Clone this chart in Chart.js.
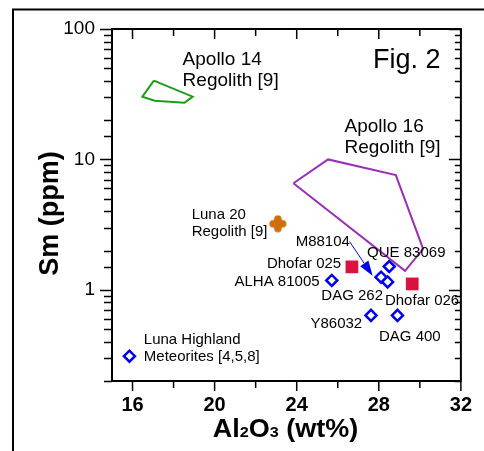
<!DOCTYPE html>
<html>
<head>
<meta charset="utf-8">
<script src="https://cdn.jsdelivr.net/npm/chart.js@4/dist/chart.umd.min.js"></script>
<style>
  html, body { margin: 0; padding: 0; background: #fff; }
  #wrap { width: 484px; height: 451px; }
</style>
</head>
<body>
<div id="wrap"><canvas id="smAluminaChart" width="484" height="451"></canvas></div>
<script>
// Apollo 14 regolith field (closed polygon)
let apollo14Al = [17.04, 18.93, 18.53, 17.08, 16.48, 17.04];
let apollo14Sm = [40.2, 30.3, 27.2, 28.2, 30.3, 40.2];

// Apollo 16 regolith field (closed polygon)
let apollo16Al = [23.84, 25.53, 28.83, 30.16, 29.28, 23.84];
let apollo16Sm = [6.56, 10.0, 7.59, 2.06, 1.40, 6.56];

// lunar highland meteorites (open diamonds)
let meteoriteNames = ['Luna Highland', 'ALHA 81005', 'Y86032', 'DAG 400', 'QUE 83069', 'M88104', 'DAG 262'];
let meteoriteAl = [15.85, 25.71, 27.62, 28.91, 28.51, 28.11, 28.43];
let meteoriteSm = [0.31, 1.18, 0.637, 0.637, 1.51, 1.25, 1.15];

// Dhofar 025 / 026 (red squares)
let dhofarAl = [26.69, 29.63];
let dhofarSm = [1.50, 1.11];

// Luna 20 regolith
let luna20Al = [23.08];
let luna20Sm = [3.21];

// M88104 arrow, start -> tip
let arrowAl = [26.58, 27.70];
let arrowSm = [2.34, 1.28];

// axis ticks
let xTickLabels = [16, 20, 24, 28, 32];
let yTickLabels = [1, 10, 100];

// text notes: lines, Al2O3 and Sm of the first baseline
let noteLines = [
    ['Apollo 14', 'Regolith [9]'],
    ['Apollo 16', 'Regolith [9]'],
    ['Luna 20', 'Regolith [9]'],
    ['M88104'],
    ['QUE 83069'],
    ['Dhofar 025'],
    ['ALHA 81005'],
    ['DAG 262'],
    ['Dhofar 026'],
    ['Y86032'],
    ['DAG 400'],
    ['Luna Highland', 'Meteorites [4,5,8]']
];
let noteAl = [18.44, 26.33, 18.88, 23.95, 27.43, 22.55, 20.97, 25.20, 28.30, 24.67, 28.01, 16.55];
let noteSm = [53.0, 16.1, 3.49, 2.17, 1.79, 1.48, 1.07, 0.835, 0.764, 0.507, 0.405, 0.382];

function toPoints(xs, ys) {
    return xs.map((x, i) => ({x: x, y: ys[i]}));
}

const FONT = '"Liberation Sans", Arial, sans-serif';

// rounded plus sign for Luna 20
let plusMark = document.createElement('canvas');
plusMark.width = 18;
plusMark.height = 18;
let pctx = plusMark.getContext('2d');
pctx.fillStyle = '#cf6d0f';
pctx.beginPath();
pctx.roundRect(0.5, 5.2, 17, 7.6, 3.8);
pctx.roundRect(5.2, 0.5, 7.6, 17, 3.8);
pctx.fill('nonzero');

let figurePlugin = {
    id: 'figure',
    afterDraw(chart) {
        let ctx = chart.ctx;
        let area = chart.chartArea;
        let xs = chart.scales.x;
        let ys = chart.scales.y;
        ctx.save();

        // outer figure frame (cropped)
        ctx.strokeStyle = '#000';
        ctx.lineWidth = 2;
        ctx.beginPath();
        ctx.moveTo(13, 451);
        ctx.lineTo(13, 9.5);
        ctx.lineTo(484, 9.5);
        ctx.stroke();

        // plot box
        ctx.strokeRect(area.left, area.top, area.right - area.left, area.bottom - area.top);

        // tick marks
        ctx.lineWidth = 1.5;
        ctx.beginPath();
        xs.ticks.forEach(t => {
            if (t.value % 2 !== 0) return;
            let px = xs.getPixelForValue(t.value);
            let len = (t.value % 4 === 0) ? 10 : 7;
            ctx.moveTo(px, area.bottom);
            ctx.lineTo(px, area.bottom + len);
            ctx.moveTo(px, area.top);
            ctx.lineTo(px, area.top + len);
        });
        ys.ticks.forEach(t => {
            let py = Math.round(ys.getPixelForValue(t.value)) + 0.5;
            let lg = Math.log10(t.value);
            let major = Math.abs(lg - Math.round(lg)) < 1e-6;
            ctx.moveTo(area.left, py);
            ctx.lineTo(area.left - (major ? 12 : 8), py);
            ctx.moveTo(area.right, py);
            ctx.lineTo(area.right - (major ? 12 : 6), py);
        });
        ctx.stroke();

        // M88104 arrow
        let x0 = xs.getPixelForValue(arrowAl[0]), y0 = ys.getPixelForValue(arrowSm[0]);
        let x1 = xs.getPixelForValue(arrowAl[1]), y1 = ys.getPixelForValue(arrowSm[1]);
        let ang = Math.atan2(y1 - y0, x1 - x0);
        let headLen = 15, headHalf = 5;
        let bx = x1 - headLen * Math.cos(ang), by = y1 - headLen * Math.sin(ang);
        ctx.strokeStyle = '#0000ee';
        ctx.fillStyle = '#0000ee';
        ctx.lineWidth = 1;
        ctx.beginPath();
        ctx.moveTo(x0, y0);
        ctx.lineTo(bx, by);
        ctx.stroke();
        ctx.beginPath();
        ctx.moveTo(x1, y1);
        ctx.lineTo(bx + headHalf * Math.sin(ang), by - headHalf * Math.cos(ang));
        ctx.lineTo(bx - headHalf * Math.sin(ang), by + headHalf * Math.cos(ang));
        ctx.closePath();
        ctx.fill();

        // notes
        ctx.fillStyle = '#000';
        ctx.textAlign = 'left';
        ctx.textBaseline = 'alphabetic';
        noteLines.forEach((lines, i) => {
            let big = i < 2;
            ctx.font = (big ? 19 : 15) + 'px ' + FONT;
            let lh = big ? 21 : 17;
            let px = xs.getPixelForValue(noteAl[i]);
            let py = ys.getPixelForValue(noteSm[i]);
            lines.forEach((s, j) => ctx.fillText(s, px, py + j * lh));
        });

        ctx.font = '27px ' + FONT;
        ctx.fillText('Fig. 2', 373, 67.7);

        // axis titles
        ctx.save();
        ctx.translate(58, 213.5);
        ctx.rotate(-Math.PI / 2);
        ctx.textAlign = 'center';
        ctx.font = 'bold 27px ' + FONT;
        ctx.fillText('Sm (ppm)', 0, 0);
        ctx.restore();

        let parts = [['Al', 25], ['2', 15], ['O', 25], ['3', 15], [' (wt%)', 25]];
        let total = 0;
        parts.forEach(p => { ctx.font = 'bold ' + p[1] + 'px ' + FONT; total += ctx.measureText(p[0]).width; });
        ctx.save();
        ctx.translate((area.left + area.right) / 2 - 1, 436.7);
        ctx.scale(1.08, 1);
        let cx = -total / 2;
        parts.forEach(p => {
            ctx.font = 'bold ' + p[1] + 'px ' + FONT;
            ctx.fillText(p[0], cx, 0);
            cx += ctx.measureText(p[0]).width;
        });
        ctx.restore();

        ctx.restore();
    }
};

let canvasSmAlumina = document.getElementById('smAluminaChart');
let ctxSmAlumina = canvasSmAlumina.getContext('2d');

var chartSmAlumina = new Chart(ctxSmAlumina, {

    // The type of chart we want to create
    type: 'scatter',

    // The data for our dataset
    data: {
        datasets: [{
            label: 'Apollo 14 Regolith',
            data: toPoints(apollo14Al, apollo14Sm),
            showLine: true,
            borderColor: '#1a9e1a',
            borderWidth: 2,
            pointRadius: 0,
            fill: false
        }, {
            label: 'Apollo 16 Regolith',
            data: toPoints(apollo16Al, apollo16Sm),
            showLine: true,
            borderColor: '#9a2fb5',
            borderWidth: 2,
            pointRadius: 0,
            fill: false
        }, {
            label: 'Lunar highland meteorites',
            data: toPoints(meteoriteAl, meteoriteSm),
            pointStyle: 'rectRot',
            pointRadius: 5.5,
            pointBorderWidth: 2.5,
            pointBorderColor: '#0000f0',
            pointBackgroundColor: '#fff'
        }, {
            label: 'Dhofar 025/026',
            data: toPoints(dhofarAl, dhofarSm),
            pointStyle: 'rect',
            pointRadius: 9,
            pointBorderWidth: 0,
            pointBackgroundColor: '#d9123f',
            pointBorderColor: '#d9123f'
        }, {
            label: 'Luna 20 Regolith',
            data: toPoints(luna20Al, luna20Sm),
            pointStyle: plusMark,
            pointRadius: 9
        }]
    },

    // Configuration options go here
    options: {
        responsive: false,
        animation: false,
        events: [],
        layout: {
            padding: {top: 29, right: 20, left: 0, bottom: 0}
        },
        plugins: {
            legend: {display: false},
            tooltip: {enabled: false}
        },
        scales: {
            x: {
                type: 'linear',
                min: 15,
                max: 32,
                afterFit: s => { s.height = 70; },
                grid: {display: false, drawTicks: false},
                border: {display: false},
                ticks: {
                    stepSize: 2,
                    includeBounds: false,
                    autoSkip: false,
                    maxRotation: 0,
                    padding: 12,
                    color: '#000',
                    font: {family: FONT, size: 20, weight: 'bold'},
                    callback: v => xTickLabels.includes(v) ? String(v) : ''
                }
            },
            y: {
                type: 'logarithmic',
                min: 0.2,
                max: 100,
                afterFit: s => { s.width = 112; },
                grid: {display: false, drawTicks: false},
                border: {display: false},
                ticks: {
                    autoSkip: false,
                    padding: 17,
                    color: '#000',
                    font: {family: FONT, size: 19},
                    callback: v => yTickLabels.includes(v) ? String(v) : ''
                }
            }
        }
    },
    plugins: [figurePlugin]
});
</script>
</body>
</html>
